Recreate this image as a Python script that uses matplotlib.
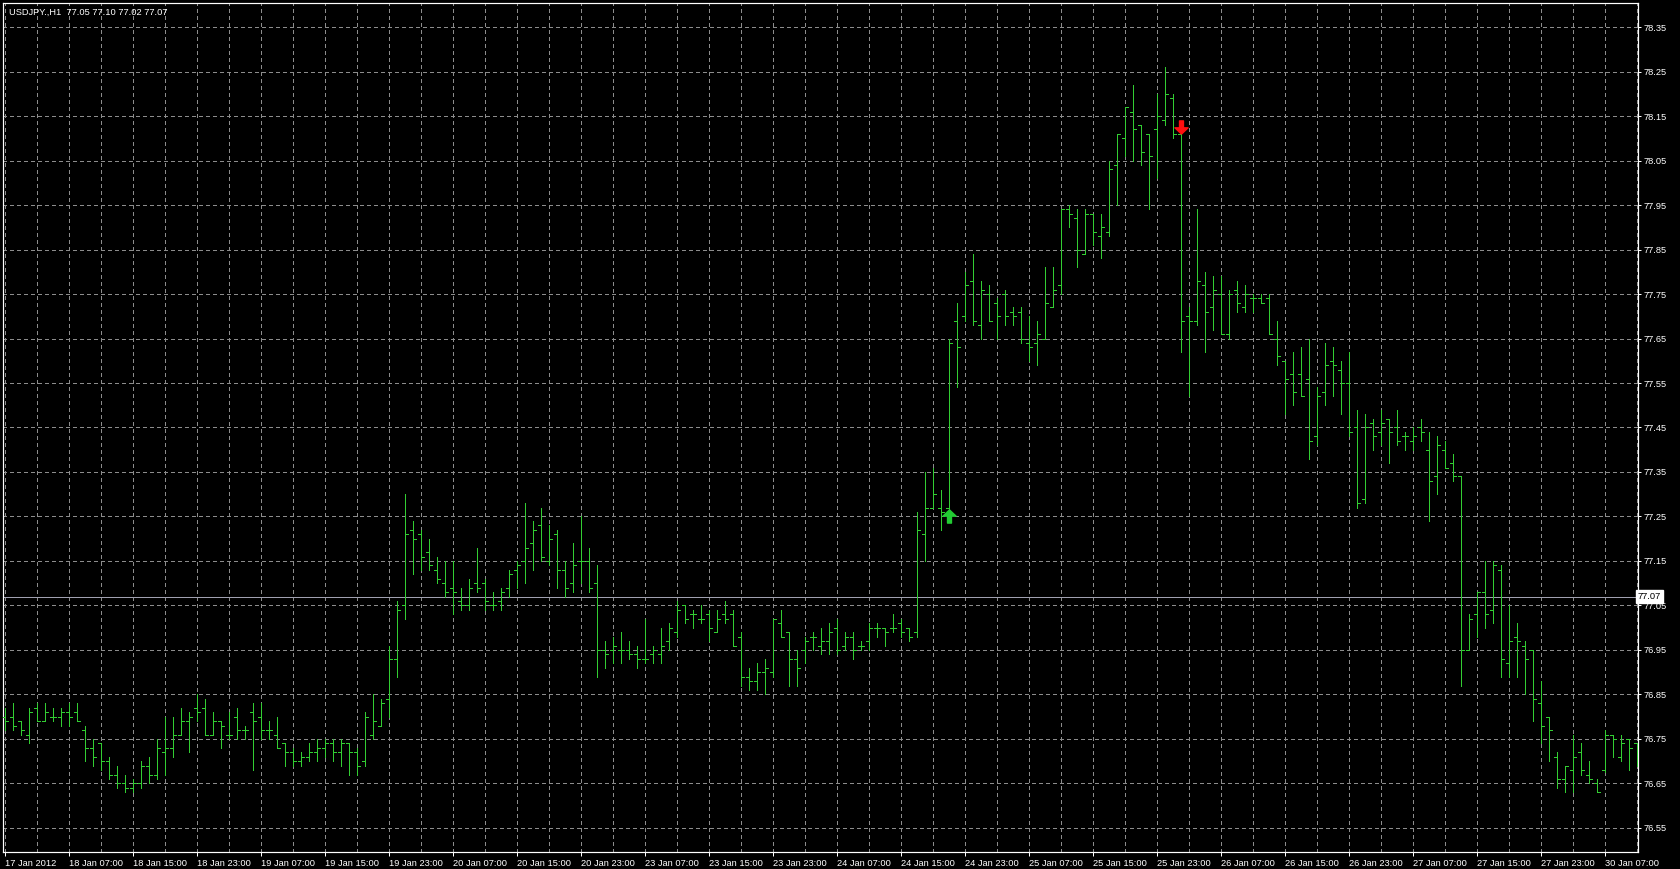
import matplotlib
matplotlib.use("Agg")
import matplotlib.pyplot as plt
from matplotlib.path import Path
import matplotlib.transforms as mtransforms
import numpy as np

plt.rcParams['font.family'] = ['Liberation Sans', 'DejaVu Sans']

# ---------------- data ----------------
header_text = "USDJPY.,H1  77.05 77.10 77.02 77.07"

time_labels = ["17 Jan 2012", "18 Jan 07:00", "18 Jan 15:00", "18 Jan 23:00",
               "19 Jan 07:00", "19 Jan 15:00", "19 Jan 23:00", "20 Jan 07:00",
               "20 Jan 15:00", "20 Jan 23:00", "23 Jan 07:00", "23 Jan 15:00",
               "23 Jan 23:00", "24 Jan 07:00", "24 Jan 15:00", "24 Jan 23:00",
               "25 Jan 07:00", "25 Jan 15:00", "25 Jan 23:00", "26 Jan 07:00",
               "26 Jan 15:00", "26 Jan 23:00", "27 Jan 07:00", "27 Jan 15:00",
               "27 Jan 23:00", "30 Jan 07:00"]
bars_per_label = 8

price_ticks = [76.55, 76.65, 76.75, 76.85, 76.95, 77.05, 77.15, 77.25, 77.35,
               77.45, 77.55, 77.65, 77.75, 77.85, 77.95, 78.05, 78.15, 78.25, 78.35]

opens = [
    76.80, 76.80, 76.79, 76.76, 76.82, 76.79, 76.80, 76.80, 76.81, 76.81,
    76.77, 76.73, 76.74, 76.70, 76.67, 76.65, 76.64, 76.65, 76.69, 76.67,
    76.72, 76.73, 76.76, 76.79, 76.82, 76.82, 76.76, 76.79, 76.76, 76.80,
    76.77, 76.81, 76.80, 76.77, 76.76, 76.74, 76.72, 76.70, 76.71, 76.72,
    76.73, 76.74, 76.72, 76.74, 76.72, 76.70, 76.76, 76.78, 76.84, 76.93,
    77.05, 77.22, 77.21, 77.17, 77.13, 77.10, 77.09, 77.06, 77.05, 77.10,
    77.10, 77.05, 77.06, 77.09, 77.13, 77.15, 77.19, 77.23, 77.15, 77.21,
    77.13, 77.10, 77.15, 77.15, 77.10, 76.95, 76.95, 76.95, 76.95, 76.94,
    76.93, 76.94, 76.94, 76.97, 76.99, 77.05, 77.03, 77.02, 77.03, 76.99,
    77.03, 77.03, 76.98, 76.89, 76.88, 76.90, 76.90, 77.01, 76.99, 76.93,
    76.95, 76.98, 76.96, 76.97, 77.00, 76.96, 76.98, 76.96, 76.97, 77.00,
    77.00, 77.00, 77.01, 77.00, 76.99, 77.21, 77.27, 77.27, 77.27, 77.69,
    77.70, 77.78, 77.68, 77.75, 77.73, 77.75, 77.71, 77.71, 77.64, 77.64,
    77.65, 77.72, 77.77, 77.94, 77.92, 77.84, 77.93, 77.88, 77.89, 78.04,
    78.10, 78.16, 78.13, 78.11, 78.12, 78.14, 78.19, 78.11, 77.70, 77.69,
    77.77, 77.72, 77.75, 77.66, 77.76, 77.72, 77.74, 77.74, 77.74, 77.65,
    77.60, 77.57, 77.57, 77.56, 77.43, 77.53, 77.60, 77.58, 77.55, 77.45,
    77.29, 77.46, 77.44, 77.47, 77.45, 77.43, 77.42, 77.45, 77.40, 77.34,
    77.40, 77.37, 77.34, 76.95, 77.03, 77.08, 77.04, 77.13, 76.92, 76.98,
    76.96, 76.95, 76.83, 76.80, 76.71, 76.66, 76.68, 76.72, 76.67, 76.65,
    76.68, 76.76, 76.71, 76.75, 76.74]

highs = [
    76.82, 76.83, 76.79, 76.82, 76.83, 76.83, 76.82, 76.82, 76.83, 76.83,
    76.78, 76.75, 76.74, 76.71, 76.69, 76.67, 76.66, 76.70, 76.71, 76.75,
    76.80, 76.80, 76.82, 76.81, 76.85, 76.84, 76.81, 76.79, 76.81, 76.82,
    76.78, 76.83, 76.83, 76.79, 76.80, 76.74, 76.73, 76.72, 76.74, 76.75,
    76.75, 76.75, 76.75, 76.74, 76.73, 76.81, 76.85, 76.84, 76.96, 77.06,
    77.30, 77.24, 77.22, 77.20, 77.16, 77.15, 77.15, 77.09, 77.11, 77.18,
    77.11, 77.08, 77.09, 77.13, 77.15, 77.28, 77.24, 77.27, 77.23, 77.22,
    77.15, 77.19, 77.25, 77.18, 77.14, 76.97, 76.98, 76.99, 76.97, 76.96,
    77.02, 76.96, 77.00, 77.01, 77.06, 77.05, 77.04, 77.05, 77.04, 77.04,
    77.06, 77.04, 76.99, 76.91, 76.92, 76.93, 77.02, 77.04, 76.99, 76.95,
    76.98, 76.99, 77.00, 77.01, 77.02, 76.99, 76.99, 76.97, 77.01, 77.01,
    77.00, 77.03, 77.02, 77.00, 77.26, 77.35, 77.36, 77.31, 77.65, 77.73,
    77.80, 77.84, 77.78, 77.77, 77.74, 77.76, 77.72, 77.72, 77.70, 77.69,
    77.81, 77.81, 77.94, 77.95, 77.94, 77.94, 77.93, 77.93, 78.05, 78.11,
    78.17, 78.22, 78.13, 78.11, 78.20, 78.26, 78.20, 78.11, 77.72, 77.94,
    77.80, 77.79, 77.79, 77.76, 77.78, 77.77, 77.75, 77.75, 77.75, 77.69,
    77.60, 77.62, 77.63, 77.65, 77.54, 77.64, 77.63, 77.60, 77.62, 77.49,
    77.48, 77.47, 77.49, 77.47, 77.49, 77.44, 77.45, 77.47, 77.44, 77.43,
    77.42, 77.39, 77.34, 77.03, 77.08, 77.15, 77.15, 77.14, 77.05, 77.01,
    76.97, 76.95, 76.88, 76.80, 76.72, 76.69, 76.76, 76.74, 76.70, 76.66,
    76.77, 76.76, 76.76, 76.75, 76.74]

lows = [
    76.77, 76.77, 76.76, 76.74, 76.79, 76.79, 76.79, 76.78, 76.78, 76.79,
    76.70, 76.69, 76.68, 76.66, 76.64, 76.63, 76.63, 76.64, 76.65, 76.66,
    76.67, 76.71, 76.76, 76.72, 76.79, 76.76, 76.76, 76.73, 76.75, 76.75,
    76.75, 76.68, 76.75, 76.75, 76.73, 76.69, 76.69, 76.69, 76.70, 76.70,
    76.71, 76.70, 76.69, 76.67, 76.67, 76.69, 76.75, 76.78, 76.80, 76.89,
    77.02, 77.12, 77.13, 77.13, 77.10, 77.07, 77.03, 77.04, 77.04, 77.08,
    77.04, 77.04, 77.04, 77.07, 77.09, 77.10, 77.13, 77.15, 77.14, 77.09,
    77.07, 77.08, 77.10, 77.08, 76.89, 76.91, 76.92, 76.92, 76.93, 76.91,
    76.92, 76.92, 76.92, 76.95, 76.98, 77.01, 77.00, 77.01, 76.97, 76.99,
    77.01, 76.96, 76.87, 76.86, 76.86, 76.85, 76.89, 76.98, 76.87, 76.87,
    76.92, 76.95, 76.94, 76.94, 76.94, 76.95, 76.93, 76.95, 76.95, 76.98,
    76.96, 76.99, 76.98, 76.97, 76.98, 77.15, 77.27, 77.22, 77.24, 77.54,
    77.69, 77.68, 77.65, 77.69, 77.65, 77.68, 77.68, 77.64, 77.60, 77.59,
    77.65, 77.72, 77.75, 77.90, 77.81, 77.84, 77.86, 77.83, 77.88, 77.95,
    78.06, 78.05, 78.04, 77.94, 78.01, 78.13, 78.10, 77.62, 77.52, 77.68,
    77.62, 77.67, 77.66, 77.65, 77.71, 77.71, 77.71, 77.73, 77.66, 77.59,
    77.48, 77.50, 77.52, 77.38, 77.41, 77.50, 77.52, 77.48, 77.43, 77.27,
    77.28, 77.40, 77.41, 77.37, 77.41, 77.40, 77.40, 77.42, 77.24, 77.30,
    77.36, 77.33, 76.87, 76.95, 76.98, 77.00, 77.01, 76.89, 76.89, 76.89,
    76.85, 76.79, 76.74, 76.70, 76.64, 76.63, 76.63, 76.67, 76.65, 76.63,
    76.675, 76.71, 76.70, 76.68, 76.69]

closes = [
    76.79, 76.78, 76.77, 76.81, 76.79, 76.81, 76.80, 76.81, 76.80, 76.79,
    76.73, 76.71, 76.70, 76.67, 76.65, 76.64, 76.65, 76.69, 76.67, 76.73,
    76.73, 76.76, 76.79, 76.80, 76.81, 76.76, 76.79, 76.78, 76.76, 76.77,
    76.77, 76.79, 76.77, 76.77, 76.73, 76.72, 76.70, 76.71, 76.72, 76.73,
    76.74, 76.72, 76.74, 76.72, 76.69, 76.80, 76.79, 76.83, 76.93, 77.04,
    77.21, 77.20, 77.16, 77.14, 77.11, 77.08, 77.08, 77.05, 77.09, 77.09,
    77.06, 77.05, 77.08, 77.12, 77.14, 77.18, 77.22, 77.16, 77.20, 77.13,
    77.09, 77.14, 77.15, 77.09, 76.95, 76.94, 76.96, 76.95, 76.94, 76.93,
    76.93, 76.95, 76.96, 77.00, 77.04, 77.02, 77.03, 77.02, 77.00, 77.02,
    77.02, 76.96, 76.89, 76.88, 76.90, 76.91, 77.02, 76.98, 76.93, 76.91,
    76.97, 76.98, 76.97, 76.99, 76.95, 76.98, 76.95, 76.96, 77.00, 77.00,
    76.99, 77.00, 76.99, 76.98, 77.22, 77.27, 77.30, 77.26, 77.64, 77.63,
    77.77, 77.69, 77.76, 77.69, 77.70, 77.70, 77.70, 77.65, 77.63, 77.66,
    77.73, 77.76, 77.94, 77.93, 77.85, 77.93, 77.89, 77.90, 78.03, 78.11,
    78.17, 78.12, 78.07, 78.06, 78.15, 78.20, 78.11, 77.69, 77.69, 77.78,
    77.71, 77.76, 77.66, 77.75, 77.73, 77.75, 77.74, 77.73, 77.66, 77.61,
    77.56, 77.53, 77.52, 77.42, 77.52, 77.59, 77.59, 77.55, 77.44, 77.28,
    77.45, 77.43, 77.46, 77.44, 77.42, 77.43, 77.43, 77.44, 77.33, 77.41,
    77.36, 77.34, 76.95, 77.02, 77.08, 77.03, 77.14, 76.93, 76.97, 76.97,
    76.93, 76.84, 76.78, 76.77, 76.66, 76.69, 76.71, 76.68, 76.66, 76.63,
    76.76, 76.75, 76.74, 76.73, 76.74]

current_price = 77.07

buy_signal_bars = [118]
buy_signal_prices = [77.25]
sell_signal_bars = [147]
sell_signal_prices = [78.125]

# ---------------- styling ----------------
W, H, DPI = 1680, 869, 100
BAR = '#32cd32'
GRID = '#8c8c8c'
TXT = '#ffffff'
FS = 6.7
PX = 72.0 / DPI  # one pixel in points

n = len(opens)
assert len(highs) == n and len(lows) == n and len(closes) == n
x = np.arange(n)

fig = plt.figure(figsize=(W / DPI, H / DPI), dpi=DPI, facecolor='black')
ax = fig.add_axes([3 / W, 1 - 852 / H, (1638 - 3) / W, (852 - 3) / H])
ax.set_facecolor('black')
ax.set_xlim(-0.25, 204.125)
ax.set_ylim(76.496, 78.404)

# grid
for k in range(0, n, 4):
    ax.axvline(k, color=GRID, lw=PX, linestyle=(0, (3, 3)), zorder=1,
               antialiased=False)
for p in price_ticks:
    ax.axhline(p, color=GRID, lw=PX, linestyle=(0, (3, 3)), zorder=1,
               antialiased=False)

# current price line
ax.axhline(current_price, color='#a0a0b0', lw=PX, zorder=2, antialiased=False)

# OHLC bars
ax.vlines(x, lows, highs, color=BAR, lw=PX, zorder=3, antialiased=False)
ax.hlines(opens, x - 0.32, x, color=BAR, lw=PX, zorder=3, antialiased=False)
ax.hlines(closes, x, x + 0.32, color=BAR, lw=PX, zorder=3, antialiased=False)

# signal arrows
up_verts = [(0, 1), (-1, 0.05), (-0.3, 0.05), (-0.3, -1), (0.3, -1),
            (0.3, 0.05), (1, 0.05), (0, 1)]
up_codes = [Path.MOVETO] + [Path.LINETO] * 6 + [Path.CLOSEPOLY]
up_arrow = Path(up_verts, up_codes)
down_arrow = Path([(vx, -vy) for vx, vy in up_verts], up_codes)
ax.plot(buy_signal_bars, buy_signal_prices, linestyle='none', marker=up_arrow,
        ms=9.5, color='#22cc33', mec='#22cc33', zorder=5)
ax.plot(sell_signal_bars, sell_signal_prices, linestyle='none', marker=down_arrow,
        ms=9.5, color='#ff1010', mec='#ff1010', zorder=5)

# spines
for s in ax.spines.values():
    s.set_color('#ffffff')
    s.set_linewidth(PX * 1.2)

# y axis on right
ax.yaxis.tick_right()
ax.set_yticks(price_ticks)
ax.set_yticklabels([f"{p:.2f}" for p in price_ticks])
ax.tick_params(axis='y', colors=TXT, labelsize=FS, length=3 * PX, width=PX, pad=3 * PX)

# x axis labels
label_pos = [bars_per_label * k for k in range(len(time_labels))]
ax.set_xticks(label_pos)
ax.set_xticklabels(time_labels, ha='left')
ax.tick_params(axis='x', colors=TXT, labelsize=FS, length=4 * PX, width=PX, pad=3 * PX)

# current price box on the right axis
trans = mtransforms.blended_transform_factory(ax.transAxes, ax.transData)
ax.text(1.0, current_price, f"{current_price:.2f}", transform=trans,
        ha='left', va='center', fontsize=FS, color='black',
        bbox=dict(boxstyle='square,pad=0.22', facecolor='white', edgecolor='white'),
        zorder=6, clip_on=False)

# header
fig.text(9 / W, 1 - 12 / H, header_text, color=TXT, fontsize=FS, ha='left', va='center')

fig.savefig('out.png', dpi=DPI, facecolor='black')
